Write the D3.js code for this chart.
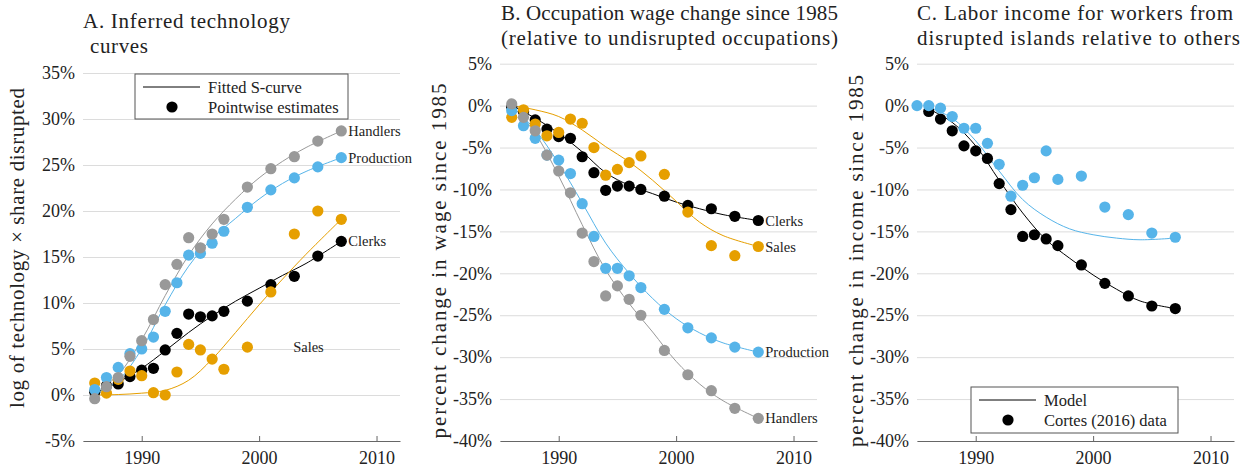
<!DOCTYPE html>
<html>
<head>
<meta charset="utf-8">
<script src="https://cdn.jsdelivr.net/npm/d3@7"></script>
<style>
  body { margin: 0; background: #fff; }
  svg { font-family: "Liberation Serif", "DejaVu Serif", serif; }
</style>
</head>
<body>
<svg id="chart" width="1256" height="471"></svg>
<script>
// years for pointwise estimates
const years = [1986, 1987, 1988, 1989, 1990, 1991, 1992, 1993, 1994, 1995, 1996, 1997, 1999, 2001, 2003, 2005, 2007];
const yearsC = [1985].concat(years);
const fitYears = [1986, 1988, 1990, 1992, 1994, 1996, 1998, 2000, 2002, 2004, 2007];

// Panel A: log of technology x share disrupted (%)
const aHandlers = [-0.4, 0.9, 1.9, 4.2, 5.9, 8.2, 12.0, 14.2, 17.1, 16.0, 17.5, 19.1, 22.6, 24.6, 25.9, 27.6, 28.7];
const aProduction = [0.6, 1.9, 3.0, 4.5, 5.0, 6.3, 9.1, 12.2, 15.2, 15.4, 16.5, 17.8, 20.4, 22.3, 23.6, 24.8, 25.8];
const aClerks = [0.3, 1.0, 1.2, 2.0, 2.7, 2.9, 4.9, 6.7, 8.8, 8.5, 8.6, 9.1, 10.2, 12.0, 12.9, 15.1, 16.7];
const aSales = [1.3, 0.2, 1.7, 2.6, 2.1, 0.25, 0.0, 2.5, 5.5, 4.9, 3.9, 2.8, 5.2, 11.2, 17.5, 20.0, 19.1];
const aFitHandlers = [0.2, 2.2, 6.0, 10.8, 15.2, 18.6, 21.3, 23.6, 25.4, 26.9, 28.7];
const aFitProduction = [0.1, 1.6, 5.0, 9.8, 14.0, 17.0, 19.2, 21.3, 23.0, 24.3, 25.8];
const aFitClerks = [0.2, 1.4, 2.9, 4.8, 6.8, 8.6, 10.2, 11.6, 13.0, 14.3, 16.7];
const aFitSales = [0.0, 0.05, 0.2, 0.5, 1.6, 3.9, 6.8, 9.8, 12.6, 15.3, 19.1];

// Panel B: wage change since 1985 (%)
const bClerks = [-0.2, -0.7, -1.7, -2.8, -3.7, -3.9, -6.1, -8.0, -10.1, -9.6, -9.6, -10.0, -10.8, -11.9, -12.3, -13.2, -13.7];
const bSales = [-1.4, -0.5, -2.2, -3.6, -3.2, -1.6, -2.1, -5.0, -8.3, -7.6, -6.8, -6.0, -8.2, -12.7, -16.7, -17.9, -16.8];
const bProduction = [-0.6, -2.4, -3.9, -5.9, -6.5, -8.1, -11.7, -15.6, -19.4, -19.4, -20.3, -21.7, -24.3, -26.5, -27.7, -28.8, -29.4];
const bHandlers = [0.2, -1.4, -3.0, -5.9, -7.8, -10.4, -15.2, -18.6, -22.7, -21.5, -23.1, -25.0, -29.2, -32.1, -34.0, -36.1, -37.3];
const bFitClerks = [0, -1.5, -3.3, -5.5, -8.0, -9.5, -10.5, -11.5, -12.3, -13.0, -13.7];
const bFitSales = [0, -0.5, -1.3, -2.9, -4.9, -6.7, -8.9, -11.4, -13.9, -15.5, -16.8];
const bFitProduction = [0, -2.9, -6.9, -11.6, -16.4, -20.0, -23.0, -25.4, -27.1, -28.3, -29.4];
const bFitHandlers = [0, -3.3, -8.4, -14.2, -19.6, -23.6, -27.0, -30.5, -33.2, -35.2, -37.3];

// Panel C: income change since 1985 (%)
const cModelPts = [0, 0, -0.3, -1.3, -2.7, -2.7, -4.5, -7.0, -10.8, -9.5, -8.6, -5.4, -8.8, -8.4, -12.1, -13.0, -15.2, -15.7];
const cCortes = [-0.7, -1.6, -3.0, -4.8, -5.4, -6.3, -9.3, -12.4, -15.6, -15.4, -15.9, -16.7, -19.0, -21.2, -22.7, -23.9, -24.2];
const cFitCortes = [-0.4, -2.0, -4.8, -8.9, -12.8, -16.0, -18.2, -20.2, -21.9, -23.3, -24.2];
const cFitModel = [-0.2, -1.5, -4.2, -7.8, -11.2, -13.3, -14.7, -15.4, -15.8, -16.0, -15.8];

const xTicks = [1990, 2000, 2010];
const gray = "#999999", blue = "#56B4E9", orange = "#E69F00", black = "#000000";

const svg = d3.select("#chart");

function panel(opts) {
  const x = d3.scaleLinear().domain([1985, 2012]).range(opts.xRange);
  const y = d3.scaleLinear().domain(opts.yDomain).range([441, opts.yTop]);
  const g = svg.append("g");

  // gridlines + y labels
  const yAxis = d3.axisLeft(y)
    .tickValues(d3.range(opts.yDomain[0], opts.yDomain[1] + 1, 5))
    .tickFormat(d => d + "%")
    .tickSize(-(opts.xRange[1] - opts.xRange[0]))
    .tickPadding(8);
  g.append("g")
    .attr("transform", `translate(${opts.xRange[0]},0)`)
    .call(yAxis)
    .call(s => s.select(".domain").remove())
    .call(s => s.selectAll(".tick line").attr("stroke", "#dcdcdc").attr("stroke-width", 1))
    .call(s => s.selectAll(".tick text").attr("font-size", 18).attr("fill", "#222")
      .style("font-family", "Liberation Serif"));

  // x axis
  g.append("g")
    .attr("transform", "translate(0,441)")
    .call(d3.axisBottom(x).tickValues(xTicks).tickFormat(d3.format("d")).tickSizeInner(-5).tickSizeOuter(0).tickPadding(10))
    .call(s => s.select(".domain").attr("stroke", "#666"))
    .call(s => s.selectAll(".tick line").attr("stroke", "#666"))
    .call(s => s.selectAll(".tick text").attr("font-size", 18).attr("fill", "#222")
      .style("font-family", "Liberation Serif"));

  const line = d3.line().x(d => x(d[0])).y(d => y(d[1])).curve(d3.curveCatmullRom.alpha(0.5));

  opts.series.forEach(s => {
    g.append("path")
      .datum(d3.zip(fitYears, s.fit))
      .attr("fill", "none")
      .attr("stroke", s.color)
      .attr("stroke-width", 1)
      .attr("d", line);
  });
  opts.series.forEach(s => {
    g.append("g").selectAll("circle")
      .data(d3.zip(s.years || years, s.pts))
      .join("circle")
      .attr("cx", d => x(d[0]))
      .attr("cy", d => y(d[1]))
      .attr("r", 5.6)
      .attr("fill", s.color);
    if (s.label) {
      g.append("text")
        .attr("x", s.labelAt ? x(s.labelAt[0]) : x(2007) + 7)
        .attr("y", s.labelAt ? y(s.labelAt[1]) : y(s.pts[s.pts.length - 1]))
        .attr("dy", "0.35em")
        .attr("font-size", 14.5)
        .attr("fill", "#222")
        .text(s.label);
    }
  });

  // titles (text, x, width)
  opts.title.forEach((t, i) => {
    g.append("text").attr("x", t[1]).attr("y", 20 + i * 25 + (opts.titleShift || 0))
      .attr("font-size", 21).attr("fill", "#222")
      .attr("textLength", t[2]).attr("lengthAdjust", "spacing")
      .text(t[0]);
  });
  g.append("text")
    .attr("transform", `translate(${opts.yLabelX},${opts.yLabelY}) rotate(-90)`)
    .attr("text-anchor", "middle")
    .attr("font-size", 21).attr("fill", "#222")
    .attr("textLength", opts.yLabelLen).attr("lengthAdjust", "spacing")
    .text(opts.yLabel);

  return { x, y, g };
}

const A = panel({
  xRange: [83, 400], yDomain: [-5, 35], yTop: 73,
  title: [["A. Inferred technology", 83, 207], ["curves", 90, 58]], titleShift: 8,
  yLabel: "log of technology \u00d7 share disrupted", yLabelX: 24, yLabelY: 248, yLabelLen: 320,
  series: [
    { color: black, pts: aClerks, fit: aFitClerks, label: "Clerks" },
    { color: orange, pts: aSales, fit: aFitSales, label: "Sales", labelAt: [2002.9, 5.2] },
    { color: blue, pts: aProduction, fit: aFitProduction, label: "Production" },
    { color: gray, pts: aHandlers, fit: aFitHandlers, label: "Handlers" }
  ]
});

const B = panel({
  xRange: [500, 817], yDomain: [-40, 5], yTop: 63.7,
  title: [["B. Occupation wage change since 1985", 501, 337], ["(relative to undisrupted occupations)", 501, 337]],
  yLabel: "percent change in wage since 1985", yLabelX: 446, yLabelY: 261, yLabelLen: 355,
  series: [
    { color: black, pts: bClerks, fit: bFitClerks, label: "Clerks" },
    { color: orange, pts: bSales, fit: bFitSales, label: "Sales" },
    { color: blue, pts: bProduction, fit: bFitProduction, label: "Production" },
    { color: gray, pts: bHandlers, fit: bFitHandlers, label: "Handlers" }
  ]
});

const C = panel({
  xRange: [917, 1234], yDomain: [-40, 5], yTop: 63.7,
  title: [["C. Labor income for workers from", 917, 316], ["disrupted islands relative to others", 917, 323]],
  yLabel: "percent change in income since 1985", yLabelX: 863, yLabelY: 261, yLabelLen: 372,
  series: [
    { color: black, pts: cCortes, fit: cFitCortes },
    { color: blue, pts: cModelPts, fit: cFitModel, years: yearsC }
  ]
});

// legends
function legend(box, items) {
  const lg = svg.append("g");
  lg.append("rect").attr("x", box[0]).attr("y", box[1]).attr("width", box[2]).attr("height", box[3])
    .attr("fill", "#fff").attr("stroke", "#555").attr("stroke-width", 1);
  items.forEach((it, i) => {
    const cy = box[1] + 13 + i * 20;
    if (it.type === "line") {
      lg.append("line").attr("x1", box[0] + 8).attr("x2", box[0] + 65).attr("y1", cy).attr("y2", cy)
        .attr("stroke", "#000").attr("stroke-width", 1);
    } else {
      lg.append("circle").attr("cx", box[0] + 37).attr("cy", cy).attr("r", 5.6).attr("fill", "#000");
    }
    lg.append("text").attr("x", box[0] + 73).attr("y", cy).attr("dy", "0.35em")
      .attr("font-size", 16.5).attr("fill", "#222").text(it.text);
  });
}
legend([135, 74, 213, 45], [{ type: "line", text: "Fitted S-curve" }, { type: "dot", text: "Pointwise estimates" }]);
legend([971, 387, 207, 46], [{ type: "line", text: "Model" }, { type: "dot", text: "Cortes (2016) data" }]);
</script>
</body>
</html>
